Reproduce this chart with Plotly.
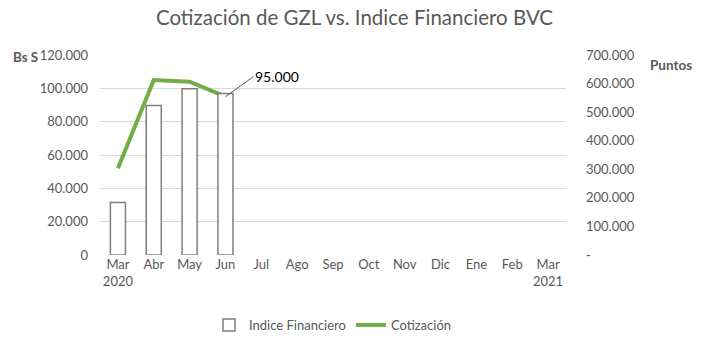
import plotly.graph_objects as go

categories = ["Mar<br>2020", "Abr", "May", "Jun", "Jul", "Ago", "Sep", "Oct", "Nov", "Dic", "Ene", "Feb", "Mar<br>2021"]
indice_financiero = [184000, 523000, 582000, 565000, None, None, None, None, None, None, None, None, None]
cotizacion = [52000, 105000, 104000, 95000, None, None, None, None, None, None, None, None, None]
left_ticks = [0, 20000, 40000, 60000, 80000, 100000, 120000]
right_ticks = [0, 100000, 200000, 300000, 400000, 500000, 600000, 700000]
right_ticktext = ["-", "100.000", "200.000", "300.000", "400.000", "500.000", "600.000", "700.000"]

FONT = "Lato, Carlito, Calibri, sans-serif"
TXT = "#595959"

fig = go.Figure()
fig.add_trace(go.Bar(
    x=categories, y=indice_financiero, name="Indice Financiero", yaxis="y2",
    marker=dict(color="white", line=dict(color="#7f7f7f", width=1.5)),
))
fig.add_trace(go.Scatter(
    x=categories, y=cotizacion, name="Cotización", mode="lines",
    line=dict(color="#70ad47", width=4), yaxis="y",
))

fig.add_annotation(
    x=categories[3], y=cotizacion[3], xref="x", yref="y",
    text="95.000", showarrow=True, arrowhead=0, arrowwidth=1, arrowcolor="#595959",
    ax=28, ay=-20, xanchor="left", font=dict(size=14, color="#000000", family=FONT),
)

fig.update_layout(
    width=709, height=352,
    margin=dict(l=100, r=143, t=55, b=95),
    paper_bgcolor="white", plot_bgcolor="white",
    separators=",.",
    title=dict(text="Cotización de GZL vs. Indice Financiero BVC", x=0.5, xanchor="center",
               y=0.95, yanchor="middle", font=dict(size=20.5, color=TXT, family=FONT)),
    font=dict(family=FONT, size=13, color=TXT),
    bargap=0.58,
    showlegend=True,
    legend=dict(orientation="h", x=0.5, xanchor="center", y=-0.35, yanchor="middle",
                font=dict(size=13, color=TXT, family=FONT)),
    xaxis=dict(showgrid=False, showline=False, ticks="", tickfont=dict(size=13, color=TXT),
               tickangle=0, fixedrange=True),
    yaxis=dict(range=[0, 120000], tickvals=left_ticks, tickformat=",.0f", showgrid=True,
               gridcolor="#d9d9d9", gridwidth=1, zeroline=False, showline=False,
               ticklabelstandoff=11, tickfont=dict(size=13, color=TXT)),
    yaxis2=dict(range=[0, 700000], tickvals=right_ticks, ticktext=right_ticktext,
                overlaying="y", side="right", showgrid=False, zeroline=False,
                ticklabelstandoff=19, tickfont=dict(size=13, color=TXT)),
)
fig.add_annotation(x=-0.19, y=0.99, xref="paper", yref="paper", text="<b>Bs S</b>", showarrow=False,
                   xanchor="left", yanchor="middle", font=dict(size=13.5, color=TXT, family=FONT))
fig.add_annotation(x=1.176, y=0.95, xref="paper", yref="paper", text="<b>Puntos</b>", showarrow=False,
                   xanchor="left", yanchor="middle", font=dict(size=13.5, color=TXT, family=FONT))

fig.write_html("out.html")
